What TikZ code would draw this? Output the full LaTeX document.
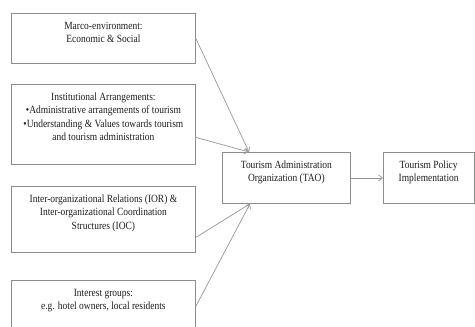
\documentclass[tikz,border=0pt]{standalone}
\usepackage{fontspec}
\setmainfont[FakeStretch=0.86]{Liberation Serif}
\usetikzlibrary{arrows.meta}
\definecolor{edge}{HTML}{8C8C8C}
\definecolor{ink}{HTML}{1E1E1E}
\newcommand{\boxtext}[3]{\parbox[t][#2][t]{#1}{\centering\fontsize{11pt}{13.5pt}\selectfont\color{ink}\rule{0pt}{16pt}#3\par}}
\begin{document}
\begin{tikzpicture}[x=1pt,y=-1pt,
  box/.style={draw=edge, line width=0.8pt, inner sep=0pt, anchor=north west},
  conn/.style={draw=edge!90, line width=0.7pt, -{Straight Barb[length=4pt,width=6pt]}}]
\useasboundingbox (0,0) rectangle (475,327);
\clip (0,0) rectangle (475,327);
\fill[white] (0,0) rectangle (475,327);
\node[box] (b1) at (11,13) {\boxtext{184pt}{50pt}{Marco-environment:\\Economic \& Social}};
\node[box] (b2) at (11,84) {\boxtext{184pt}{80pt}{Institutional Arrangements:\\\textbullet Administrative arrangements of tourism\\\textbullet Understanding \& Values towards tourism\\and tourism administration}};
\node[box] (b3) at (11,186) {\boxtext{184pt}{66pt}{Inter-organizational Relations (IOR) \&\\Inter-organizational Coordination\\Structures (IOC)}};
\node[box] (b4) at (11,280) {\boxtext{184pt}{52pt}{Interest groups:\\e.g. hotel owners, local residents}};
\node[box] (tao) at (222,152) {\boxtext{128pt}{51pt}{Tourism Administration\\Organization (TAO)}};
\node[box] (tpi) at (383,152) {\boxtext{90.5pt}{51pt}{Tourism Policy\\Implementation}};
\draw[conn] (b1.east) -- ([xshift=27pt]tao.north west);
\draw[conn] ([yshift=-13pt]b2.east) -- ([xshift=27pt]tao.north west);
\draw[conn] ([yshift=-18pt]b3.east) -- ([xshift=28pt]tao.south west);
\draw[conn] (b4.east) -- ([xshift=28pt]tao.south west);
\draw[conn] (tao.east) -- (tpi.west);
\end{tikzpicture}
\end{document}
